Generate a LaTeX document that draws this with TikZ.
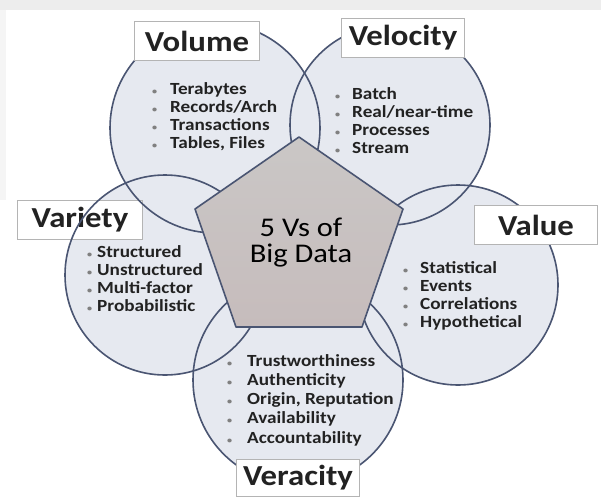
\documentclass[tikz,border=0pt]{standalone}
\usepackage{fontspec}
\setmainfont{Carlito}
\newfontfamily\widefont[FakeStretch=1.13]{Carlito}
\definecolor{circfill}{HTML}{E6E9F0}
\definecolor{circline}{HTML}{4A5572}
\definecolor{penttop}{HTML}{CAC7C6}
\definecolor{pentbot}{HTML}{C6BCBC}
\definecolor{txt}{HTML}{222222}
\definecolor{boxline}{HTML}{B4B4B4}
\newcommand\vbul[1]{\makebox[#1][l]{\color{gray}\fontsize{9}{9}\selectfont\textbullet}}
\begin{document}
\begin{tikzpicture}[x=1pt,y=-1pt,
  title/.style={draw=boxline, fill=white, line width=0.8pt, inner sep=0pt,
    font=\widefont\fontsize{29}{32}\selectfont\bfseries, text=txt, minimum height=39pt},
  listtext/.style={anchor=base west, inner sep=0pt, text=txt,
    font=\widefont\fontsize{17}{18.3}\selectfont\bfseries},
  ring/.style={draw=circline, line width=1.6pt}]
\useasboundingbox (0,0) rectangle (601,498);
\fill[white] (0,0) rectangle (601,498);
\fill[gray!14] (0,0) rectangle (601,10);
\fill[gray!8] (0,10) rectangle (6,200);
% circle centres
\coordinate (cvol) at (215,128);
\coordinate (cvel) at (390,125);
\coordinate (cvar) at (165,275);
\coordinate (cval) at (458,285);
\coordinate (cver) at (298,380);
\fill[circfill] (cvol) circle[radius=105pt];
\fill[circfill] (cvel) circle[radius=100pt];
\fill[circfill] (cvar) circle[radius=100pt];
\fill[circfill] (cval) circle[radius=100pt];
\fill[circfill] (cver) circle[radius=105pt];
\node[title, minimum width=125pt] (tvar) at (80,220) {Variety};
\draw[ring] (cvol) circle[radius=105pt];
\draw[ring] (cvel) circle[radius=100pt];
\draw[ring] (cvar) circle[radius=100pt];
\draw[ring] (cval) circle[radius=100pt];
\draw[ring] (cver) circle[radius=105pt];
% pentagon
\coordinate (p1) at (299,137);
\coordinate (p2) at (403,209);
\coordinate (p3) at (362,327);
\coordinate (p4) at (236,327);
\coordinate (p5) at (195,209);
\draw[ring, top color=penttop, bottom color=pentbot, line join=round]
  (p1) -- (p2) -- (p3) -- (p4) -- (p5) -- cycle;
\node[align=center, text=black, inner sep=0pt, font=\widefont\fontsize{27}{26}\selectfont] (core) at (301,243) {5 Vs of\\Big Data};
% titles
\node[title, minimum width=125pt] (tvol) at (197,41) {Volume};
\node[title, minimum width=123pt] (tvel) at (403,38) {Velocity};
\node[title, minimum width=123pt] (tval) at (536,225) {Value};
\node[title, minimum width=123pt, minimum height=37pt] (tver) at (298,478) {Veracity};
% lists
\node[listtext] (lvol) at (152,94) {\begin{tabular}[t]{@{}l@{}}
\vbul{18pt}Terabytes\\ \vbul{18pt}Records/Arch\\ \vbul{18pt}Transactions\\ \vbul{18pt}Tables, Files\end{tabular}};
\node[listtext] (lvel) at (335,99) {\begin{tabular}[t]{@{}l@{}}
\vbul{17pt}Batch\\ \vbul{17pt}Real/near-time\\ \vbul{17pt}Processes\\ \vbul{17pt}Stream\end{tabular}};
\node[listtext] (lvar) at (87,257) {\begin{tabular}[t]{@{}l@{}}
\vbul{10pt}Structured\\ \vbul{10pt}Unstructured\\ \vbul{10pt}Multi-factor\\ \vbul{10pt}Probabilistic\end{tabular}};
\node[listtext] (lval) at (403,273) {\begin{tabular}[t]{@{}l@{}}
\vbul{17pt}Statistical\\ \vbul{17pt}Events\\ \vbul{17pt}Correlations\\ \vbul{17pt}Hypothetical\end{tabular}};
\node[listtext, font=\widefont\fontsize{17}{19.3}\selectfont\bfseries] (lver) at (227,366) {\begin{tabular}[t]{@{}l@{}}
\vbul{20pt}Trustworthiness\\ \vbul{20pt}Authenticity\\ \vbul{20pt}Origin, Reputation\\ \vbul{20pt}Availability\\ \vbul{20pt}Accountability\end{tabular}};
\end{tikzpicture}
\end{document}
